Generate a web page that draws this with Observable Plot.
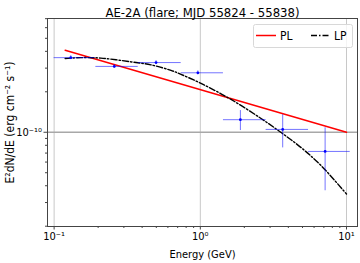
<!DOCTYPE html>
<html>
<head>
<meta charset="utf-8">
<script src="https://cdn.jsdelivr.net/npm/d3@7"></script>
<script src="https://cdn.jsdelivr.net/npm/@observablehq/plot@0.6"></script>
<style>
  html, body { margin: 0; padding: 0; background: #fff; }
  #wrap { position: relative; width: 360px; height: 263px; font-family: "DejaVu Sans Condensed", "DejaVu Sans", sans-serif; font-stretch: condensed; }
  #legend { position: absolute; left: 253px; top: 24px; }
</style>
</head>
<body>
<div id="wrap"></div>
<script>
// ---- data ----
const title = "AE-2A (flare; MJD 55824 - 55838)";
const xLabel = "Energy (GeV)";
const yLabel = "E²dN/dE (erg cm⁻² s⁻¹)";

// flux points (GeV, erg cm^-2 s^-1)
const ptE     = [0.130, 0.258, 0.498, 0.962, 1.88, 3.66, 7.14];
const ptELo   = [0.100, 0.193, 0.376, 0.740, 1.44, 2.82, 5.50];
const ptEHi   = [0.190, 0.376, 0.740, 1.440, 2.82, 5.50, 10.6];
const ptF     = [3.59e-10, 3.09e-10, 3.30e-10, 2.77e-10, 1.24e-10, 1.05e-10, 7.2e-11];
const ptFLo   = [3.47e-10, 2.99e-10, 3.19e-10, 2.68e-10, 1.03e-10, 7.65e-11, 3.67e-11];
const ptFHi   = [3.71e-10, 3.19e-10, 3.41e-10, 2.86e-10, 1.45e-10, 1.35e-10, 1.08e-10];

// power-law model (straight in log-log) endpoints
const plE = [0.119, 10];
const plF = [4.07e-10, 1.0e-10];

// log-parabola model, points
const lpE = [0.119, 0.152, 0.209, 0.335, 0.459, 0.630, 0.738, 1.011, 1.623, 2.605, 3.570, 4.894, 6.709, 10.0];
const lpF = [3.537e-10, 3.592e-10, 3.561e-10, 3.341e-10, 3.173e-10, 2.887e-10, 2.695e-10, 2.309e-10, 1.754e-10, 1.265e-10, 0.995e-10, 7.69e-11, 5.64e-11, 3.47e-11];

// ticks
const xTicks = [0.1, 1, 10];
const xTickLabels = ["10⁻¹", "10⁰", "10¹"];
const xMinor = [0.2,0.3,0.4,0.5,0.6,0.7,0.8,0.9,2,3,4,5,6,7,8,9];
const yTicks = [1e-10];
const yTickLabels = ["10⁻¹⁰"];
const yMinor = [2e-11,3e-11,4e-11,5e-11,6e-11,7e-11,8e-11,9e-11,2e-10,3e-10,4e-10,5e-10,6e-10,7e-10];

const legendNames = ["PL", "LP"];

// ---- build tables ----
const pts = ptE.map((e, i) => ({e, lo: ptELo[i], hi: ptEHi[i], f: ptF[i], flo: ptFLo[i], fhi: ptFHi[i]}));
const pl = plE.map((e, i) => ({e, f: plF[i]}));
const lp = lpE.map((e, i) => ({e, f: lpF[i]}));

const font = '"DejaVu Sans Condensed", "DejaVu Sans", sans-serif';
const dashDot = "6,2,1.5,2";

const chart = Plot.plot({
  width: 360,
  height: 263,
  marginLeft: 47,
  marginRight: 3,
  marginTop: 18,
  marginBottom: 37,
  style: {fontFamily: font, fontSize: "11px", color: "#000", background: "#fff", overflow: "visible"},
  x: {type: "log", domain: [0.0901, 11.89]},
  y: {type: "log", domain: [1.99e-11, 7.02e-10]},
  marks: [
    Plot.gridX(xTicks, {stroke: "#c8c8c8", strokeOpacity: 1, strokeWidth: 1}),
    Plot.gridY(yTicks, {stroke: "#a8a8a8", strokeOpacity: 1, strokeWidth: 1.5}),
    // minor ticks
    Plot.axisX(xMinor, {tickSize: 2, tickFormat: () => "", stroke: "#444", label: null}),
    Plot.axisY(yMinor, {tickSize: 2, tickFormat: () => "", stroke: "#444", label: null}),
    // major ticks with labels
    Plot.axisX(xTicks, {
      tickSize: 3.5, tickPadding: 2, stroke: "#444", fontSize: 11,
      tickFormat: d => xTickLabels[xTicks.indexOf(d)],
      label: xLabel, labelAnchor: "center", labelArrow: "none", labelOffset: 31
    }),
    Plot.axisY(yTicks, {
      tickSize: 3.5, tickPadding: 2, stroke: "#444", fontSize: 11,
      tickFormat: d => yTickLabels[yTicks.indexOf(d)],
      label: null
    }),
    Plot.axisY([], {
      tickSize: 0, fontSize: 12,
      label: yLabel, labelAnchor: "center", labelArrow: "none", labelOffset: 42
    }),
    Plot.frame({stroke: "#444", strokeWidth: 1}),
    // model curves
    Plot.line(pl, {x: "e", y: "f", stroke: "red", strokeWidth: 1.5}),
    Plot.line(lp, {x: "e", y: "f", stroke: "black", strokeWidth: 1.4, strokeDasharray: dashDot, curve: "catmull-rom"}),
    // error bars
    Plot.ruleY(pts, {y: "f", x1: "lo", x2: "hi", stroke: "blue", strokeOpacity: 0.55, strokeWidth: 1}),
    Plot.ruleX(pts, {x: "e", y1: "flo", y2: "fhi", stroke: "blue", strokeOpacity: 0.55, strokeWidth: 1}),
    Plot.dot(pts, {x: "e", y: "f", r: 1.4, fill: "blue", stroke: null}),
    // title
    Plot.text([title], {frameAnchor: "top", dy: -11, fontSize: 13, fill: "black"})
  ]
});

const wrap = document.getElementById("wrap");
wrap.appendChild(chart);

// legend overlay
const legend = document.createElement("div");
legend.id = "legend";
legend.innerHTML = `
<svg width="100" height="24" style="font-family:${font.replace(/"/g, "'")};font-size:12px">
  <rect x="0.5" y="0.5" width="99" height="23" rx="2" fill="white" fill-opacity="0.8" stroke="#d8d8d8"/>
  <line x1="3" x2="23" y1="11.5" y2="11.5" stroke="red" stroke-width="1.5"/>
  <text x="27" y="16">${legendNames[0]}</text>
  <line x1="58" x2="77" y1="11.5" y2="11.5" stroke="black" stroke-width="1.4" stroke-dasharray="${dashDot}"/>
  <text x="81" y="16">${legendNames[1]}</text>
</svg>`;
wrap.appendChild(legend);
</script>
</body>
</html>
